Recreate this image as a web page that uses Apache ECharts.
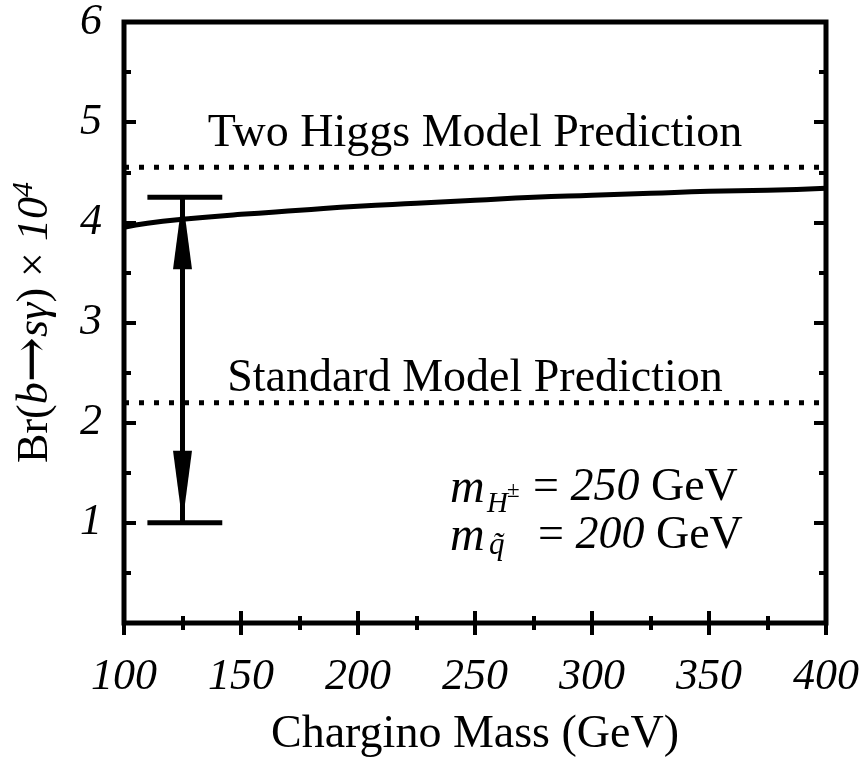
<!DOCTYPE html>
<html>
<head>
<meta charset="utf-8">
<script src="https://cdn.jsdelivr.net/npm/echarts@6/dist/echarts.min.js"></script>
<style>
  html, body { margin: 0; padding: 0; background: #fff; }
  #main { width: 865px; height: 763px; }
</style>
</head>
<body>
<div id="main"></div>
<script>
// chargino mass (GeV) vs Br(b -> s gamma) x 10^4
var massValues = [100, 110, 125, 150, 175, 200, 225, 250, 275, 300, 325, 350, 375, 400];
var brValues = [3.95, 3.99, 4.03, 4.08, 4.12, 4.16, 4.19, 4.22, 4.25, 4.27, 4.29, 4.31, 4.32, 4.34];

// horizontal prediction levels
var twoHiggsLevel = 4.55;
var standardLevel = 2.2;

// experimental range bar
var barMass = 125;
var barLow = 1.0;
var barHigh = 4.25;
var capMass = [110, 142];

var xTickLabels = [100, 150, 200, 250, 300, 350, 400];
var yTickLabels = [1, 2, 3, 4, 5, 6];

var serif = '"Liberation Serif", "Times New Roman", serif';

var chartDom = document.getElementById('main');
var myChart = echarts.init(chartDom);
var option;

function sideAxis(pos, isX, withLabels) {
    var ax = {
        type: 'value',
        position: pos,
        min: isX ? xTickLabels[0] : 0,
        max: isX ? xTickLabels[xTickLabels.length - 1] : yTickLabels[yTickLabels.length - 1],
        interval: isX ? 50 : 1,
        splitLine: {show: false},
        axisLine: {show: false},
        axisTick: {show: true, inside: true, length: 12, lineStyle: {color: '#000', width: 4}},
        minorTick: {show: true, splitNumber: 2, length: 7, lineStyle: {color: '#000', width: 4}},
        axisLabel: {show: false}
    };
    if (withLabels) {
        ax.axisLabel = {
            show: true,
            margin: isX ? 32 : 22,
            color: '#000',
            fontFamily: serif,
            fontStyle: 'italic',
            fontSize: 44,
            formatter: function (v) {
                if (isX) return xTickLabels.indexOf(v) >= 0 ? String(v) : '';
                return yTickLabels.indexOf(v) >= 0 ? String(v) : '';
            }
        };
    }
    return ax;
}

var xBottom = sideAxis('bottom', true, true);
xBottom.name = 'Chargino Mass (GeV)';
xBottom.nameLocation = 'middle';
xBottom.nameGap = 89;
xBottom.nameTextStyle = {fontFamily: serif, fontSize: 46, color: '#000'};

var yLeft = sideAxis('left', false, true);
yLeft.name = '{n|Br(}{i|b}{a|→}{i|sγ}{n|) × }{i|10}{sup|4}';
yLeft.nameLocation = 'middle';
yLeft.nameGap = 62;
yLeft.nameRotate = 90;
yLeft.nameTextStyle = {
    fontFamily: serif, fontSize: 44, color: '#000',
    rich: {
        n: {fontFamily: serif, fontSize: 44, color: '#000'},
        i: {fontFamily: serif, fontSize: 44, fontStyle: 'italic', color: '#000'},
        a: {fontFamily: '"DejaVu Serif", serif', fontSize: 54, color: '#000'},
        sup: {fontFamily: serif, fontSize: 30, fontStyle: 'italic', color: '#000', padding: [0, 0, 22, 0]}
    }
};

var xTop = sideAxis('top', true, false);
var yRight = sideAxis('right', false, false);

function pairs(xs, ys) {
    return xs.map(function (x, i) { return [x, ys[i]]; });
}

var mathRich = {
    n: {font: '46px ' + serif, fill: '#000'},
    i: {font: 'italic 46px ' + serif, fill: '#000'}
};

option = {
    animation: false,
    backgroundColor: '#fff',
    grid: {
        left: 123, right: 39, top: 15, bottom: 135,
        show: true, borderWidth: 5, borderColor: '#000', backgroundColor: 'transparent'
    },
    xAxis: [xBottom, xTop],
    yAxis: [yLeft, yRight],
    graphic: [
        {
            type: 'text', x: 475, y: 111,
            style: {text: 'Two Higgs Model Prediction', font: '46px ' + serif, fill: '#000', align: 'center'}
        },
        {
            type: 'text', x: 475, y: 356,
            style: {text: 'Standard Model Prediction', font: '46px ' + serif, fill: '#000', align: 'center'}
        },
        // m_H± = 250 GeV
        {type: 'text', x: 450, y: 465, style: {text: 'm', font: 'italic 48px ' + serif, fill: '#000'}},
        {type: 'text', x: 487, y: 490, style: {text: 'H', font: 'italic 29px ' + serif, fill: '#000'}},
        {type: 'text', x: 507, y: 479, style: {text: '±', font: '23px ' + serif, fill: '#000'}},
        {type: 'text', x: 533, y: 465, style: {text: '{n|= }{i|250}{n| GeV}', rich: mathRich}},
        // m_q~ = 200 GeV
        {type: 'text', x: 450, y: 513, style: {text: 'm', font: 'italic 48px ' + serif, fill: '#000'}},
        {type: 'text', x: 489, y: 530, style: {text: 'q\u0303', font: 'italic 31px ' + serif, fill: '#000'}},
        {type: 'text', x: 538, y: 513, style: {text: '{n|= }{i|200}{n| GeV}', rich: mathRich}}
    ],
    series: [
        {
            name: 'curve', type: 'line', smooth: true, showSymbol: false,
            data: pairs(massValues, brValues),
            lineStyle: {color: '#000', width: 5}
        },
        {
            name: 'two higgs', type: 'line', showSymbol: false,
            data: [[xTickLabels[0], twoHiggsLevel], [xTickLabels[xTickLabels.length - 1], twoHiggsLevel]],
            lineStyle: {color: '#000', width: 5, type: [5, 10]}
        },
        {
            name: 'standard', type: 'line', showSymbol: false,
            data: [[xTickLabels[0], standardLevel], [xTickLabels[xTickLabels.length - 1], standardLevel]],
            lineStyle: {color: '#000', width: 5, type: [5, 10]}
        },
        {
            name: 'shaft', type: 'line', showSymbol: false,
            data: [[barMass, barLow], [barMass, barHigh]],
            lineStyle: {color: '#000', width: 5}
        },
        {
            name: 'cap high', type: 'line', showSymbol: false,
            data: [[capMass[0], barHigh], [capMass[1], barHigh]],
            lineStyle: {color: '#000', width: 5}
        },
        {
            name: 'cap low', type: 'line', showSymbol: false,
            data: [[capMass[0], barLow], [capMass[1], barLow]],
            lineStyle: {color: '#000', width: 5}
        },
        {
            name: 'head up', type: 'scatter', symbol: 'triangle',
            symbolSize: [19, 72], symbolOffset: [0, '50%'],
            data: [[barMass, barHigh]],
            itemStyle: {color: '#000', opacity: 1}
        },
        {
            name: 'head down', type: 'scatter', symbol: 'triangle',
            symbolSize: [19, 72], symbolOffset: [0, '-50%'], symbolRotate: 180,
            data: [[barMass, barLow]],
            itemStyle: {color: '#000', opacity: 1}
        }
    ]
};
myChart.setOption(option);
</script>
</body>
</html>
